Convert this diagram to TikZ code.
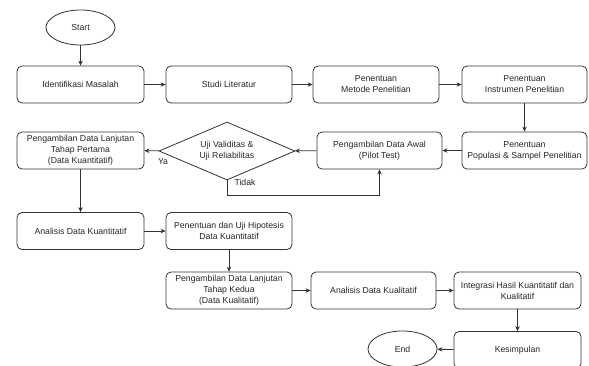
\documentclass[tikz,border=0pt]{standalone}
\usepackage{fontspec}
\setmainfont{Liberation Sans}
\usetikzlibrary{shapes.geometric,arrows.meta}
\begin{document}
\begin{tikzpicture}[x=1pt,y=-1pt,
  every node/.style={font=\fontsize{8.7}{11}\selectfont, text=black!85},
  box/.style={draw=black!80, line width=0.8pt, rounded corners=5pt, align=center, inner sep=1pt, minimum height=37pt},
  oval/.style={draw=black!80, line width=0.8pt, ellipse, inner sep=0pt},
  dec/.style={draw=black!80, line width=0.8pt, diamond, inner sep=0pt, minimum width=136pt, minimum height=58pt, aspect=2.34, align=center},
  arr/.style={draw=black!80, line width=0.8pt, -{Stealth[length=5pt,width=4.5pt]}},
  lbl/.style={inner sep=1pt}]
\useasboundingbox (0,0) rectangle (589,365);
\node[oval, minimum width=69pt, minimum height=35pt] (start) at (80.5,27.5) {Start};
\node[box, minimum width=127pt] (idm) at (80.5,84.5) {Identifikasi Masalah};
\node[box, minimum width=126pt] (stl) at (229,84.5) {Studi Literatur};
\node[box, minimum width=126pt] (met) at (376,84.5) {Penentuan\\Metode Penelitian};
\node[box, minimum width=125pt] (ins) at (524.5,84.5) {Penentuan\\Instrumen Penelitian};
\node[box, minimum width=125pt] (pop) at (524.5,150.5) {Penentuan\\Populasi \& Sampel Penelitian};
\node[box, minimum width=125pt] (awal) at (379.5,150.5) {Pengambilan Data Awal\\(Pilot Test)};
\node[dec] (dia) at (227,151) {Uji Validitas \&\\Uji Reliabilitas};
\node[box, minimum width=127pt] (tp1) at (80.5,150.5) {Pengambilan Data Lanjutan\\Tahap Pertama\\(Data Kuantitatif)};
\node[box, minimum width=127pt] (ank) at (80.5,231) {Analisis Data Kuantitatif};
\node[box, minimum width=126pt] (hip) at (229,231) {Penentuan dan Uji Hipotesis\\Data Kuantitatif};
\node[box, minimum width=126pt] (tk2) at (229,290.5) {Pengambilan Data Lanjutan\\Tahap Kedua\\(Data Kualitatif)};
\node[box, minimum width=125pt] (akl) at (373.5,290.5) {Analisis Data Kualitatif};
\node[box, minimum width=127pt] (int) at (517.5,290.5) {Integrasi Hasil Kuantitatif dan\\Kualitatif};
\node[box, minimum width=127pt] (kes) at (517.5,350) {Kesimpulan};
\node[oval, minimum width=69pt, minimum height=36pt] (end) at (402.5,349) {End};
\coordinate (tb) at ([yshift=-15pt]dia.south);
\draw[arr] (start) -- (idm);
\draw[arr] (idm) -- (stl);
\draw[arr] (stl) -- (met);
\draw[arr] (met) -- (ins);
\draw[arr] (ins) -- (pop);
\draw[arr] (pop) -- (awal);
\draw[arr] (awal) -- (dia);
\draw[arr] (dia) -- (tp1);
\draw[arr] (dia.south) -- (tb) -| (awal.south);
\draw[arr] (tp1) -- (ank);
\draw[arr] (ank) -- (hip);
\draw[arr] (hip) -- (tk2);
\draw[arr] (tk2) -- (akl);
\draw[arr] (akl) -- (int);
\draw[arr] (int) -- (kes);
\draw[arr] (kes) -- (end);
\node[lbl] (ya) at (163,162) {Ya};
\node[lbl] (tidak) at (245,182) {Tidak};
\end{tikzpicture}
\end{document}
